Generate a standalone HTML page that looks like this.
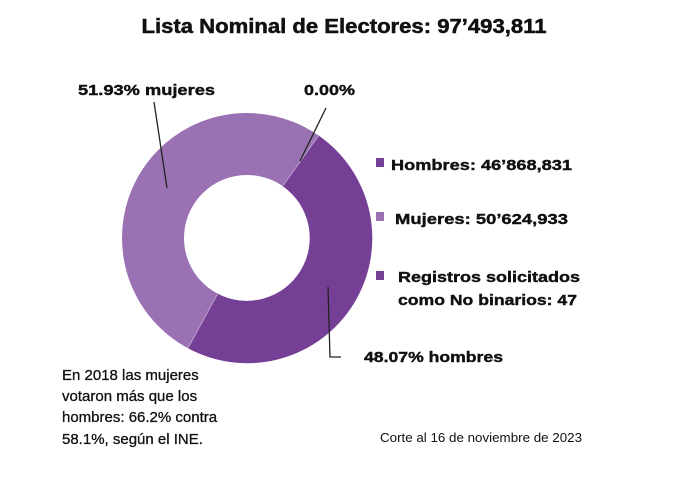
<!DOCTYPE html>
<html><head><meta charset="utf-8"><style>
html,body{margin:0;padding:0;background:#fff;}
svg{display:block;font-family:"Liberation Sans",sans-serif;}
.b{font-weight:bold;fill:#111;}
</style></head><body>
<svg width="700" height="478" viewBox="0 0 700 478">
<text x="344" y="33" text-anchor="middle" class="b" font-size="20" textLength="405" lengthAdjust="spacingAndGlyphs" stroke="#111" stroke-width="0.5">Lista Nominal de Electores: 97’493,811</text>
<circle cx="247" cy="238" r="94" fill="none" stroke="#9a72b4" stroke-width="62"/>
<path d="M318.7,135.6 A125,125 0 0 1 188.3,348.4 L217.4,293.6 A63,63 0 0 0 283.1,186.4 Z" fill="#763f96"/>
<line x1="282" y1="187" x2="319" y2="135" stroke="#b99fcc" stroke-width="1"/>
<line x1="218" y1="293" x2="188" y2="348" stroke="#b99fcc" stroke-width="1"/>
<g stroke="#222" stroke-width="1.3" fill="none">
<line x1="154" y1="102" x2="167" y2="188"/>
<line x1="326" y1="108" x2="300" y2="161"/>
<polyline points="328,287 330,357 341,357"/>
</g>
<text x="78" y="95" class="b" font-size="15" textLength="137" lengthAdjust="spacingAndGlyphs" stroke="#111" stroke-width="0.4">51.93% mujeres</text>
<text x="304" y="95" class="b" font-size="15" textLength="51" lengthAdjust="spacingAndGlyphs" stroke="#111" stroke-width="0.4">0.00%</text>
<rect x="376" y="158" width="8" height="9" fill="#763f96"/>
<text x="391" y="170" class="b" font-size="15" textLength="181" lengthAdjust="spacingAndGlyphs" stroke="#111" stroke-width="0.4">Hombres: 46’868,831</text>
<rect x="376" y="212" width="8" height="9" fill="#9a72b4"/>
<text x="395" y="224" class="b" font-size="15" textLength="173" lengthAdjust="spacingAndGlyphs" stroke="#111" stroke-width="0.4">Mujeres: 50’624,933</text>
<rect x="376" y="271" width="8" height="9" fill="#763f96"/>
<text x="398" y="282" class="b" font-size="15" textLength="182" lengthAdjust="spacingAndGlyphs" stroke="#111" stroke-width="0.4">Registros solicitados</text>
<text x="398" y="305" class="b" font-size="15" textLength="179" lengthAdjust="spacingAndGlyphs" stroke="#111" stroke-width="0.4">como No binarios: 47</text>
<text x="364" y="362" class="b" font-size="15" textLength="139" lengthAdjust="spacingAndGlyphs" stroke="#111" stroke-width="0.4">48.07% hombres</text>
<g font-size="15" fill="#111" stroke="#111" stroke-width="0.3">
<text x="62" y="380">En 2018 las mujeres</text>
<text x="62" y="401">votaron más que los</text>
<text x="62" y="422">hombres: 66.2% contra</text>
<text x="62" y="444">58.1%, según el INE.</text>
</g>
<text x="380" y="442" font-size="13" fill="#111" textLength="202" lengthAdjust="spacingAndGlyphs">Corte al 16 de noviembre de 2023</text>
</svg>
</body></html>
